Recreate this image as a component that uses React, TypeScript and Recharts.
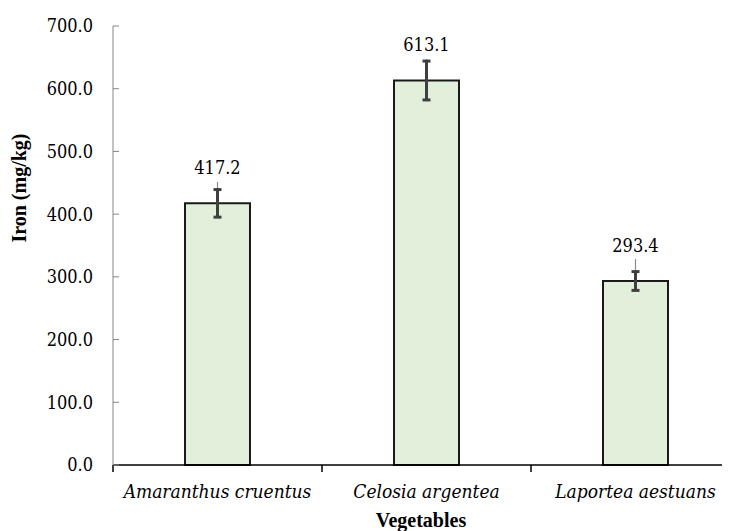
import React from 'react';
import { BarChart, Bar, XAxis, YAxis, ErrorBar, LabelList } from 'recharts';

const categories = ['Amaranthus cruentus', 'Celosia argentea', 'Laportea aestuans'];
const ironValues = [417.2, 613.1, 293.4];
const sdValues = [22, 31, 15];
const extraUpper = [34, 34, 35];
const yTicks = [0, 100, 200, 300, 400, 500, 600, 700];

const data = categories.map((name, i) => ({
  name,
  iron: ironValues[i],
  sd: [sdValues[i], sdValues[i]],
  range: [0, extraUpper[i]],
}));

const FONT_BOLD = '"Liberation Serif", "Times New Roman", serif';
const FONT_REG = '"DejaVu Serif Condensed", "DejaVu Serif", serif';
const HALF_BAND = 104.5;

const YTick = (props: any) => {
  const { x, y, payload } = props;
  return (
    <g>
      <line x1={x} y1={y} x2={x + 6} y2={y} stroke="#868686" strokeWidth={1} />
      <text x={x - 20} y={y} dy="0.36em" textAnchor="end" style={{ fontFamily: FONT_REG, fontSize: 18 }} fill="#000">
        {Number(payload.value).toFixed(1)}
      </text>
    </g>
  );
};

const XTick = (props: any) => {
  const { x, y, payload } = props;
  return (
    <g>
      <line x1={x - HALF_BAND} y1={y} x2={x - HALF_BAND} y2={y + 7} stroke="#000" strokeWidth={1.5} />
      <text x={x} y={y + 33} textAnchor="middle" style={{ fontFamily: FONT_REG, fontSize: 19, fontStyle: 'italic' }} fill="#000">
        {payload.value}
      </text>
    </g>
  );
};

const YTitle = () => (
  <text
    x={11}
    y={180}
    transform="rotate(-90, 11, 180)"
    textAnchor="middle"
    dominantBaseline="central"
    style={{ fontFamily: FONT_BOLD, fontSize: 20, fontWeight: 'bold' }}
    fill="#000"
  >
    Iron (mg/kg)
  </text>
);

const XTitle = () => (
  <text x={413} y={519} textAnchor="middle" style={{ fontFamily: FONT_BOLD, fontSize: 20, fontWeight: 'bold' }} fill="#000">
    Vegetables
  </text>
);

const DataLabel = (props: any) => {
  const { x, y, width, value } = props;
  return (
    <text x={x + width / 2} y={y - 29} textAnchor="middle" style={{ fontFamily: FONT_REG, fontSize: 18 }} fill="#000">
      {Number(value).toFixed(1)}
    </text>
  );
};

export default function App() {
  return (
    <div style={{ width: 722, height: 523, overflow: 'hidden' }}>
      <BarChart width={740} height={523} data={data} margin={{ top: 18, right: 8, left: 35, bottom: 0 }}>
        <XAxis
          dataKey="name"
          height={66}
          tickSize={0}
          tickMargin={0}
          tickLine={false}
          tick={<XTick />}
          axisLine={{ stroke: '#000', strokeWidth: 1.5 }}
          interval={0}
          label={<XTitle />}
        />
        <YAxis
          width={70}
          domain={[0, 700]}
          ticks={yTicks}
          tickSize={0}
          tickMargin={0}
          tickLine={false}
          tick={<YTick />}
          axisLine={{ stroke: '#868686', strokeWidth: 1 }}
          label={<YTitle />}
        />
        <Bar dataKey="iron" fill="#E2EFDA" stroke="#1a1a1a" strokeWidth={2} barSize={65} isAnimationActive={false}>
          <ErrorBar dataKey="range" width={0} stroke="#8c8c8c" strokeWidth={1.2} direction="y" />
          <ErrorBar dataKey="sd" width={4} stroke="#3f3f3f" strokeWidth={3} direction="y" />
          <LabelList dataKey="iron" content={<DataLabel />} />
        </Bar>
      </BarChart>
    </div>
  );
}
